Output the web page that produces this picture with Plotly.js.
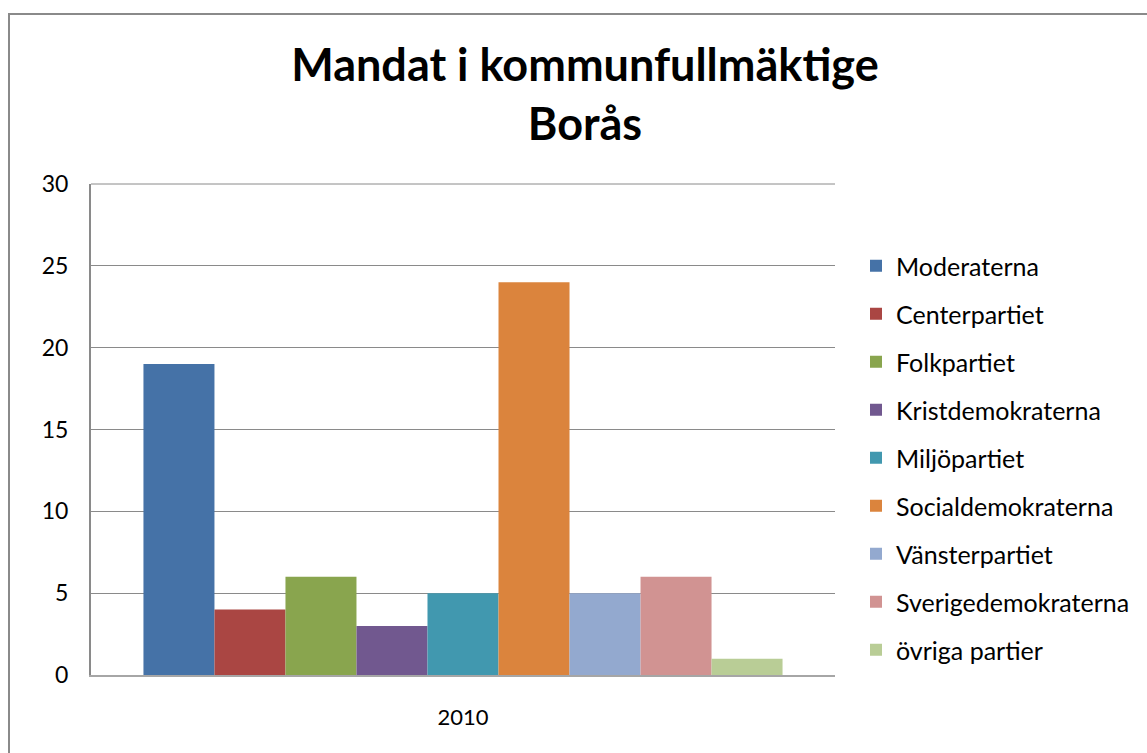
<!DOCTYPE html>
<html>
<head>
<meta charset="utf-8">
<script src="https://cdn.plot.ly/plotly-3.0.1.min.js"></script>
<style>
  html, body { margin: 0; padding: 0; background: #fff; overflow: hidden; }
  #wrap { position: relative; width: 1147px; height: 753px; }
  #chart { position: absolute; left: 0; top: 0; width: 1147px; height: 753px; }
  #frame { position: absolute; left: 8px; top: 13px; width: 1160px; height: 760px;
           border-left: 2px solid #8a8a8a; border-top: 2px solid #8a8a8a; pointer-events: none; }
</style>
</head>
<body>
<div id="wrap">
  <div id="chart"></div>
  <div id="frame"></div>
</div>
<script>
const categories = ['2010'];
const parties = ['Moderaterna', 'Centerpartiet', 'Folkpartiet', 'Kristdemokraterna',
  'Miljöpartiet', 'Socialdemokraterna', 'Vänsterpartiet', 'Sverigedemokraterna', 'övriga partier'];
const seats = [19, 4, 6, 3, 5, 24, 5, 6, 1];
const colors = ['#4572A7', '#AA4643', '#89A54E', '#71588F', '#4198AF',
  '#DB843D', '#93A9CF', '#D19392', '#B9CD96'];
const yTicks = [0, 5, 10, 15, 20, 25, 30];

const FONT = 'Lato, "Open Sans", sans-serif';

const traces = parties.map((p, i) => ({
  type: 'bar',
  name: p,
  x: categories,
  y: [seats[i]],
  marker: { color: colors[i], line: { width: 0 } },
  legendgroup: 'g' + i,
  hoverinfo: 'name+y'
}));

const layout = {
  width: 1147,
  height: 753,
  margin: { l: 91, r: 312, t: 184, b: 78 },
  paper_bgcolor: '#ffffff',
  plot_bgcolor: '#ffffff',
  font: { family: FONT, size: 23, color: '#000' },
  barmode: 'group',
  bargap: 0.141,
  bargroupgap: 0,
  showlegend: true,
  title: {
    text: '<b>Mandat i kommunfullmäktige</b><br><b>Borås</b>',
    font: { family: FONT, size: 45, color: '#000' },
    x: 0.51, xref: 'container', xanchor: 'center',
    y: 1 - 81 / 753, yref: 'container', yanchor: 'middle'
  },
  xaxis: {
    type: 'category',
    showgrid: false,
    zeroline: false,
    showline: true,
    linecolor: '#a6a6a6',
    linewidth: 2,
    ticks: '',
    ticklabelstandoff: 22,
    tickfont: { family: FONT, size: 22, color: '#000' }
  },
  yaxis: {
    range: [0, 30],
    tickvals: yTicks,
    ticktext: yTicks.map(String),
    showgrid: true,
    gridcolor: '#8a8a8a',
    gridwidth: 1,
    zeroline: false,
    showline: true,
    linecolor: '#8a8a8a',
    linewidth: 2,
    ticks: '',
    ticklabelstandoff: 16,
    tickfont: { family: FONT, size: 23, color: '#000' }
  },
  shapes: [{
    type: 'line', xref: 'paper', yref: 'paper',
    x0: 0, x1: 1, y0: 1, y1: 1,
    line: { color: '#8a8a8a', width: 1 }
  }],
  legend: {
    x: (856 - 91) / 744, xanchor: 'left',
    y: 1 - (243 - 184) / 491, yanchor: 'top',
    traceorder: 'grouped',
    tracegroupgap: 12.5,
    font: { family: FONT, size: 25, color: '#000' },
    bgcolor: 'rgba(0,0,0,0)',
    itemclick: false,
    itemdoubleclick: false
  }
};

Plotly.newPlot('chart', traces, layout, { displayModeBar: false, staticPlot: true });
</script>
</body>
</html>
